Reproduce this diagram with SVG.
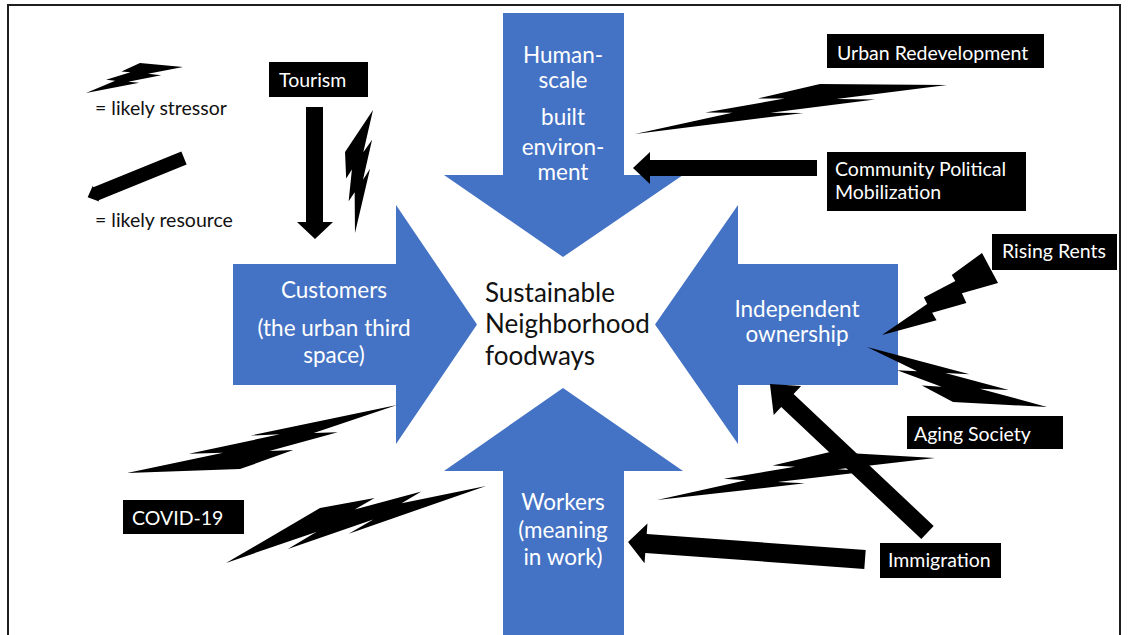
<svg xmlns="http://www.w3.org/2000/svg" xmlns:xlink="http://www.w3.org/1999/xlink" width="1128" height="635" viewBox="0 0 1128 635">
  <style>
    text { font-family: Lato, "Open Sans", "Liberation Sans", sans-serif; }
    .blue { fill: #4472C4; }
    .inlbl { fill: #ffffff; font-size: 22.5px; text-anchor: middle; }
    .tag { fill: #000000; }
    .tagtxt { fill: #ffffff; font-size: 19.5px; }
    .ink { fill: #000000; }
    .legend { fill: #111111; font-size: 19.5px; }
    .centre { fill: #111111; font-size: 26px; }
  </style>
  <defs>
    <!-- lightning bolt in a unit box: tip at (0,0), cut end at (1,0.82)/(0.608,1) -->
    <polygon id="bolt" points="1,0.82 0.608,1 0.405,0.719 0.488,0.685 0.233,0.444 0.316,0.404 0,0 0.536,0.31 0.434,0.352 0.767,0.551 0.648,0.612"/>
  </defs>

  <rect x="0" y="0" width="1128" height="635" fill="#ffffff"/>
  <rect x="8" y="5" width="1112" height="640" fill="none" stroke="#1e1e1e" stroke-width="2"/>

  <!-- legend -->
  <g id="legend">
    <use xlink:href="#bolt" href="#bolt" class="ink" transform="matrix(105.2,-2.8,-10,-28.3,86,93)"/>
    <text class="legend" x="95" y="115">= likely stressor</text>
    <polygon class="ink" points="0,-7 95,-7 95,-8.5 104,0 95,8.5 95,7 0,7" transform="translate(184,158) rotate(157.9)"/>
    <text class="legend" x="95" y="227">= likely resource</text>
  </g>

  <!-- central outcome -->
  <g id="node-centre">
    <text class="centre" x="485" y="302">Sustainable</text>
    <text class="centre" x="485" y="333">Neighborhood</text>
    <text class="centre" x="485" y="365">foodways</text>
  </g>

  <!-- four blue block arrows pointing at the centre -->
  <g id="node-built-environment">
    <polygon class="blue" points="503,13 624,13 624,175 683,175 563,257 444,175 503,175"/>
    <text class="inlbl" x="563" y="63">Human-</text>
    <text class="inlbl" x="563" y="88">scale</text>
    <text class="inlbl" x="563" y="125">built</text>
    <text class="inlbl" x="563" y="155">environ-</text>
    <text class="inlbl" x="563" y="180">ment</text>
  </g>
  <g id="node-customers">
    <polygon class="blue" points="233,264 396,264 396,205 477,324.5 396,444 396,385 233,385"/>
    <text class="inlbl" x="334" y="298">Customers</text>
    <text class="inlbl" x="334" y="336">(the urban third</text>
    <text class="inlbl" x="334" y="363">space)</text>
  </g>
  <g id="node-ownership">
    <polygon class="blue" points="898,264 738,264 738,205 655,324.5 738,444 738,385 898,385"/>
    <text class="inlbl" x="797" y="317">Independent</text>
    <text class="inlbl" x="797" y="342">ownership</text>
  </g>
  <g id="node-workers">
    <polygon class="blue" points="503,640 624,640 624,471 683,471 563,388 444,471 503,471"/>
    <text class="inlbl" x="563" y="510">Workers</text>
    <text class="inlbl" x="563" y="538">(meaning</text>
    <text class="inlbl" x="563" y="565">in work)</text>
  </g>

  <!-- external factors -->
  <g id="node-tourism">
    <rect class="tag" x="269" y="62" width="99" height="35"/>
    <text class="tagtxt" x="279" y="87">Tourism</text>
  </g>
  <g id="node-urban-redevelopment">
    <rect class="tag" x="827" y="34" width="217" height="34"/>
    <text class="tagtxt" x="837" y="60">Urban Redevelopment</text>
  </g>
  <g id="node-political-mobilization">
    <rect class="tag" x="827" y="152" width="199" height="59"/>
    <text class="tagtxt" x="835" y="176">Community Political</text>
    <text class="tagtxt" x="835" y="199">Mobilization</text>
  </g>
  <g id="node-rising-rents">
    <rect class="tag" x="992" y="234" width="125" height="36"/>
    <text class="tagtxt" x="1002" y="258">Rising Rents</text>
  </g>
  <g id="node-aging-society">
    <rect class="tag" x="907" y="416" width="156" height="33"/>
    <text class="tagtxt" x="914" y="441">Aging Society</text>
  </g>
  <g id="node-immigration">
    <rect class="tag" x="880" y="543" width="121" height="35"/>
    <text class="tagtxt" x="888" y="567">Immigration</text>
  </g>
  <g id="node-covid">
    <rect class="tag" x="123" y="500" width="121" height="34"/>
    <text class="tagtxt" x="132" y="525">COVID-19</text>
  </g>

  <!-- stressors (bolts) and resources (arrows) -->
  <g id="connectors" class="ink">
    <use xlink:href="#bolt" href="#bolt" transform="matrix(52.2,-112.8,-41.7,-12.4,355,233)"/>
    <use xlink:href="#bolt" href="#bolt" transform="matrix(319.7,-16,-9.4,-40.3,635,134)"/>
    <use xlink:href="#bolt" href="#bolt" transform="matrix(67.8,30.4,58.8,-100.5,882,335)"/>
    <use xlink:href="#bolt" href="#bolt" transform="matrix(218.3,29.7,-46.7,36.9,867,347)"/>
    <use xlink:href="#bolt" href="#bolt" transform="matrix(271.4,-5.2,8,-44.9,657,500)"/>
    <use xlink:href="#bolt" href="#bolt" transform="matrix(-281.8,30.9,14.4,45.3,397,405)"/>
    <use xlink:href="#bolt" href="#bolt" transform="matrix(-247,117.6,-15.8,-49.5,486,486)"/>

    <polygon points="306,107 323,107 323,222 333,222 315,239 297,222 306,222"/>
    <polygon points="817,160 650,160 650,152 633,168 650,184 650,176 817,176"/>
    <polygon points="0,-9.5 219.6,-9.5 219.6,-20 237.6,0 219.6,20 219.6,9.5 0,9.5" transform="translate(865,559.5) rotate(184.2)"/>
    <polygon points="0,-9 192.5,-9 192.5,-20 216.5,0 192.5,20 192.5,9 0,9" transform="translate(927.5,532.5) rotate(-136.7)"/>
  </g>
</svg>
